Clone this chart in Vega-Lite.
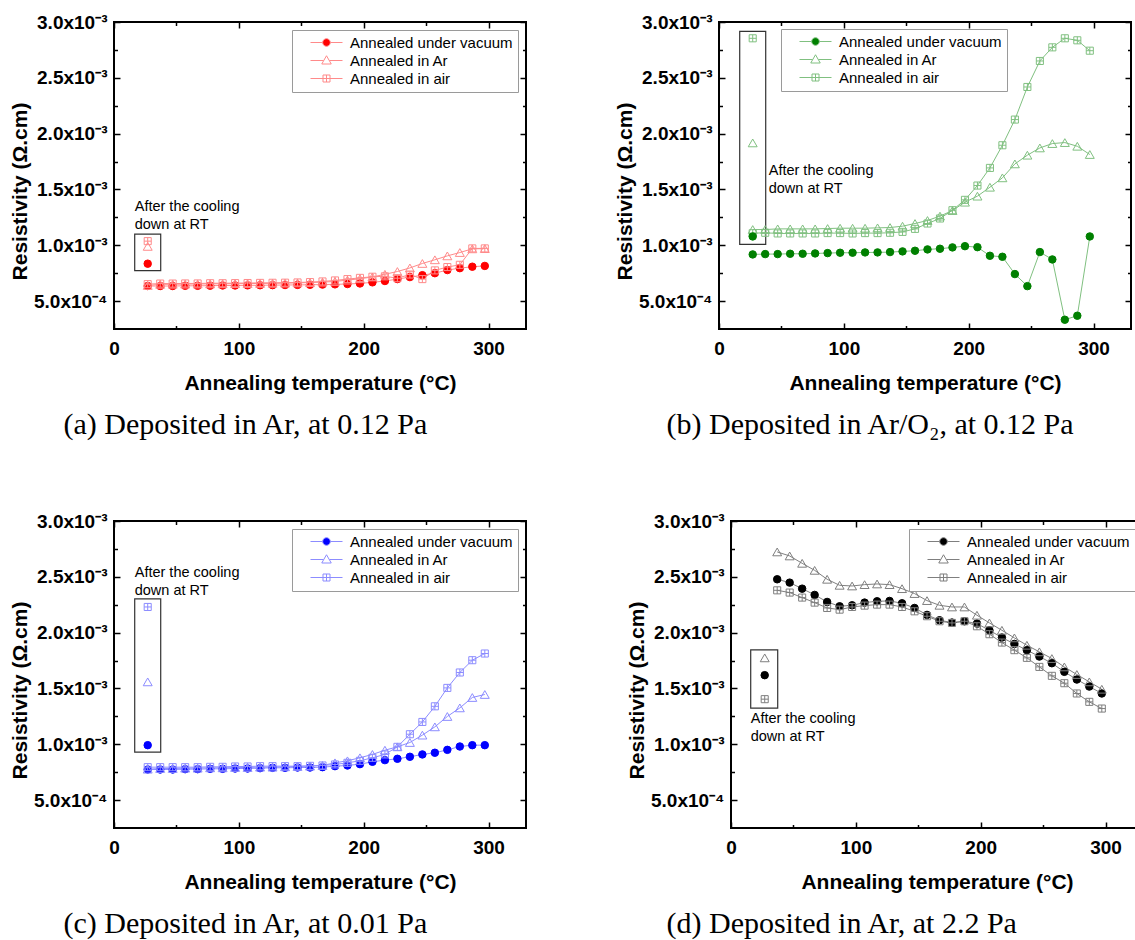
{
  "$schema": "https://vega.github.io/schema/vega-lite/v6.json",
  "background": "white",
  "padding": {"left": 8, "top": 12, "right": 0, "bottom": 0},
  "spacing": 70,
  "resolve": {"scale": {"shape": "independent"}, "legend": {"shape": "independent"}},
  "config": {
    "view": {"stroke": "black", "strokeWidth": 2},
    "axis": {"domain": false, "grid": false, "labelFont": "Liberation Sans", "labelFontWeight": "bold", "labelFontSize": 19, "labelColor": "black", "titleFont": "Liberation Sans", "titleFontWeight": "bold", "titleFontSize": 21, "titleColor": "black", "tickColor": "black", "tickWidth": 1.5, "labelFlush": false, "labelOverlap": false},
    "axisX": {"labelPadding": 16, "titlePadding": 12},
    "axisY": {"labelPadding": 13, "titlePadding": 3},
    "legend": {"labelFont": "Liberation Sans", "labelFontSize": 15, "labelColor": "black", "labelLimit": 400, "strokeColor": "#9a9a9a", "fillColor": "white", "padding": 5, "rowPadding": 2, "symbolSize": 100, "symbolOffset": 22, "labelOffset": 16, "cornerRadius": 0},
    "text": {"font": "Liberation Sans"},
    "title": {"orient": "bottom", "font": "Liberation Serif", "fontSize": 30, "fontWeight": "normal", "color": "black", "offset": 16, "anchor": "start", "frame": "bounds"}
  },
  "datasets": {
    "a": [
      {"T": 27, "Annealed under vacuum": 0.000635, "Annealed in Ar": 0.00064, "Annealed in air": 0.000652},
      {"T": 37, "Annealed under vacuum": 0.000635, "Annealed in Ar": 0.00065, "Annealed in air": 0.000657},
      {"T": 47, "Annealed under vacuum": 0.000635, "Annealed in Ar": 0.000651, "Annealed in air": 0.000657},
      {"T": 57, "Annealed under vacuum": 0.000637, "Annealed in Ar": 0.000652, "Annealed in air": 0.000658},
      {"T": 67, "Annealed under vacuum": 0.000637, "Annealed in Ar": 0.000653, "Annealed in air": 0.000658},
      {"T": 77, "Annealed under vacuum": 0.000638, "Annealed in Ar": 0.000654, "Annealed in air": 0.00066},
      {"T": 87, "Annealed under vacuum": 0.00064, "Annealed in Ar": 0.000655, "Annealed in air": 0.00066},
      {"T": 97, "Annealed under vacuum": 0.00064, "Annealed in Ar": 0.000656, "Annealed in air": 0.000661},
      {"T": 107, "Annealed under vacuum": 0.000641, "Annealed in Ar": 0.000657, "Annealed in air": 0.000662},
      {"T": 117, "Annealed under vacuum": 0.000642, "Annealed in Ar": 0.000658, "Annealed in air": 0.000663},
      {"T": 127, "Annealed under vacuum": 0.000643, "Annealed in Ar": 0.000659, "Annealed in air": 0.000664},
      {"T": 137, "Annealed under vacuum": 0.000644, "Annealed in Ar": 0.000661, "Annealed in air": 0.000665},
      {"T": 147, "Annealed under vacuum": 0.000645, "Annealed in Ar": 0.000663, "Annealed in air": 0.000667},
      {"T": 157, "Annealed under vacuum": 0.000646, "Annealed in Ar": 0.000666, "Annealed in air": 0.00067},
      {"T": 167, "Annealed under vacuum": 0.000648, "Annealed in Ar": 0.00067, "Annealed in air": 0.000676},
      {"T": 177, "Annealed under vacuum": 0.00065, "Annealed in Ar": 0.000676, "Annealed in air": 0.000685},
      {"T": 187, "Annealed under vacuum": 0.000653, "Annealed in Ar": 0.000688, "Annealed in air": 0.000697},
      {"T": 197, "Annealed under vacuum": 0.000658, "Annealed in Ar": 0.0007, "Annealed in air": 0.000708},
      {"T": 207, "Annealed under vacuum": 0.000668, "Annealed in Ar": 0.000716, "Annealed in air": 0.000718},
      {"T": 217, "Annealed under vacuum": 0.00068, "Annealed in Ar": 0.00074, "Annealed in air": 0.000722},
      {"T": 227, "Annealed under vacuum": 0.000697, "Annealed in Ar": 0.000765, "Annealed in air": 0.000705},
      {"T": 237, "Annealed under vacuum": 0.000715, "Annealed in Ar": 0.000797, "Annealed in air": 0.000738},
      {"T": 247, "Annealed under vacuum": 0.000732, "Annealed in Ar": 0.000837, "Annealed in air": 0.000697},
      {"T": 257, "Annealed under vacuum": 0.00075, "Annealed in Ar": 0.00087, "Annealed in air": 0.000775},
      {"T": 267, "Annealed under vacuum": 0.000778, "Annealed in Ar": 0.000905, "Annealed in air": 0.000805},
      {"T": 277, "Annealed under vacuum": 0.000795, "Annealed in Ar": 0.000935, "Annealed in air": 0.000825},
      {"T": 287, "Annealed under vacuum": 0.000808, "Annealed in Ar": 0.000968, "Annealed in air": 0.000972},
      {"T": 297, "Annealed under vacuum": 0.000815, "Annealed in Ar": 0.00097, "Annealed in air": 0.000972}
    ],
    "a_rt": [
      {"series": "Annealed under vacuum", "T": 27, "rho": 0.000835},
      {"series": "Annealed in Ar", "T": 27, "rho": 0.00099},
      {"series": "Annealed in air", "T": 27, "rho": 0.001037}
    ],
    "b": [
      {"T": 27, "Annealed under vacuum": 0.000918, "Annealed in Ar": 0.001141, "Annealed in air": 0.001108},
      {"T": 37, "Annealed under vacuum": 0.000921, "Annealed in Ar": 0.001141, "Annealed in air": 0.001112},
      {"T": 47, "Annealed under vacuum": 0.000921, "Annealed in Ar": 0.001147, "Annealed in air": 0.001106},
      {"T": 57, "Annealed under vacuum": 0.000924, "Annealed in Ar": 0.001147, "Annealed in air": 0.001106},
      {"T": 67, "Annealed under vacuum": 0.000924, "Annealed in Ar": 0.001147, "Annealed in air": 0.001106},
      {"T": 77, "Annealed under vacuum": 0.000927, "Annealed in Ar": 0.001147, "Annealed in air": 0.001106},
      {"T": 87, "Annealed under vacuum": 0.00093, "Annealed in Ar": 0.00115, "Annealed in air": 0.001109},
      {"T": 97, "Annealed under vacuum": 0.000933, "Annealed in Ar": 0.001153, "Annealed in air": 0.001109},
      {"T": 107, "Annealed under vacuum": 0.000933, "Annealed in Ar": 0.001153, "Annealed in air": 0.001106},
      {"T": 117, "Annealed under vacuum": 0.000936, "Annealed in Ar": 0.001153, "Annealed in air": 0.001109},
      {"T": 127, "Annealed under vacuum": 0.000936, "Annealed in Ar": 0.001156, "Annealed in air": 0.001109},
      {"T": 137, "Annealed under vacuum": 0.000939, "Annealed in Ar": 0.001159, "Annealed in air": 0.001112},
      {"T": 147, "Annealed under vacuum": 0.000945, "Annealed in Ar": 0.001171, "Annealed in air": 0.00112},
      {"T": 157, "Annealed under vacuum": 0.000951, "Annealed in Ar": 0.001195, "Annealed in air": 0.001147},
      {"T": 167, "Annealed under vacuum": 0.000963, "Annealed in Ar": 0.001222, "Annealed in air": 0.001195},
      {"T": 177, "Annealed under vacuum": 0.000969, "Annealed in Ar": 0.001261, "Annealed in air": 0.00124},
      {"T": 187, "Annealed under vacuum": 0.000981, "Annealed in Ar": 0.001311, "Annealed in air": 0.001314},
      {"T": 197, "Annealed under vacuum": 0.000992, "Annealed in Ar": 0.001386, "Annealed in air": 0.001407},
      {"T": 207, "Annealed under vacuum": 0.000983, "Annealed in Ar": 0.00144, "Annealed in air": 0.001535},
      {"T": 217, "Annealed under vacuum": 0.000906, "Annealed in Ar": 0.00152, "Annealed in air": 0.001693},
      {"T": 227, "Annealed under vacuum": 0.000897, "Annealed in Ar": 0.001604, "Annealed in air": 0.001896},
      {"T": 237, "Annealed under vacuum": 0.000742, "Annealed in Ar": 0.001729, "Annealed in air": 0.002126},
      {"T": 247, "Annealed under vacuum": 0.000634, "Annealed in Ar": 0.001807, "Annealed in air": 0.002418},
      {"T": 257, "Annealed under vacuum": 0.000939, "Annealed in Ar": 0.001872, "Annealed in air": 0.002651},
      {"T": 267, "Annealed under vacuum": 0.000873, "Annealed in Ar": 0.001911, "Annealed in air": 0.002773},
      {"T": 277, "Annealed under vacuum": 0.000333, "Annealed in Ar": 0.00192, "Annealed in air": 0.002854},
      {"T": 287, "Annealed under vacuum": 0.000369, "Annealed in Ar": 0.001887, "Annealed in air": 0.002836},
      {"T": 297, "Annealed under vacuum": 0.001079, "Annealed in Ar": 0.001813, "Annealed in air": 0.002743}
    ],
    "b_rt": [
      {"series": "Annealed under vacuum", "T": 27, "rho": 0.001079},
      {"series": "Annealed in Ar", "T": 27, "rho": 0.001917},
      {"series": "Annealed in air", "T": 27, "rho": 0.002854}
    ],
    "c": [
      {"T": 27, "Annealed under vacuum": 0.000774, "Annealed in Ar": 0.000777, "Annealed in air": 0.000795},
      {"T": 37, "Annealed under vacuum": 0.000774, "Annealed in Ar": 0.000783, "Annealed in air": 0.000795},
      {"T": 47, "Annealed under vacuum": 0.000774, "Annealed in Ar": 0.000783, "Annealed in air": 0.000795},
      {"T": 57, "Annealed under vacuum": 0.000777, "Annealed in Ar": 0.000786, "Annealed in air": 0.000795},
      {"T": 67, "Annealed under vacuum": 0.000777, "Annealed in Ar": 0.000786, "Annealed in air": 0.000795},
      {"T": 77, "Annealed under vacuum": 0.00078, "Annealed in Ar": 0.000789, "Annealed in air": 0.000798},
      {"T": 87, "Annealed under vacuum": 0.00078, "Annealed in Ar": 0.000789, "Annealed in air": 0.000798},
      {"T": 97, "Annealed under vacuum": 0.000783, "Annealed in Ar": 0.000792, "Annealed in air": 0.000801},
      {"T": 107, "Annealed under vacuum": 0.000783, "Annealed in Ar": 0.000792, "Annealed in air": 0.000801},
      {"T": 117, "Annealed under vacuum": 0.000786, "Annealed in Ar": 0.000795, "Annealed in air": 0.000804},
      {"T": 127, "Annealed under vacuum": 0.000789, "Annealed in Ar": 0.000795, "Annealed in air": 0.000804},
      {"T": 137, "Annealed under vacuum": 0.000789, "Annealed in Ar": 0.000798, "Annealed in air": 0.000804},
      {"T": 147, "Annealed under vacuum": 0.000792, "Annealed in Ar": 0.000801, "Annealed in air": 0.000804},
      {"T": 157, "Annealed under vacuum": 0.000792, "Annealed in Ar": 0.000804, "Annealed in air": 0.000807},
      {"T": 167, "Annealed under vacuum": 0.000795, "Annealed in Ar": 0.00081, "Annealed in air": 0.00081},
      {"T": 177, "Annealed under vacuum": 0.000804, "Annealed in Ar": 0.000834, "Annealed in air": 0.000819},
      {"T": 187, "Annealed under vacuum": 0.00081, "Annealed in Ar": 0.000852, "Annealed in air": 0.000834},
      {"T": 197, "Annealed under vacuum": 0.000822, "Annealed in Ar": 0.000879, "Annealed in air": 0.000852},
      {"T": 207, "Annealed under vacuum": 0.000843, "Annealed in Ar": 0.000909, "Annealed in air": 0.000879},
      {"T": 217, "Annealed under vacuum": 0.000858, "Annealed in Ar": 0.000947, "Annealed in air": 0.000909},
      {"T": 227, "Annealed under vacuum": 0.00087, "Annealed in Ar": 0.000977, "Annealed in air": 0.000977},
      {"T": 237, "Annealed under vacuum": 0.000888, "Annealed in Ar": 0.001016, "Annealed in air": 0.00109},
      {"T": 247, "Annealed under vacuum": 0.000909, "Annealed in Ar": 0.001082, "Annealed in air": 0.0012},
      {"T": 257, "Annealed under vacuum": 0.000924, "Annealed in Ar": 0.001156, "Annealed in air": 0.00134},
      {"T": 267, "Annealed under vacuum": 0.00095, "Annealed in Ar": 0.001249, "Annealed in air": 0.001505},
      {"T": 277, "Annealed under vacuum": 0.00098, "Annealed in Ar": 0.001326, "Annealed in air": 0.001643},
      {"T": 287, "Annealed under vacuum": 0.000992, "Annealed in Ar": 0.001419, "Annealed in air": 0.001753},
      {"T": 297, "Annealed under vacuum": 0.000992, "Annealed in Ar": 0.001446, "Annealed in air": 0.001813}
    ],
    "c_rt": [
      {"series": "Annealed under vacuum", "T": 27, "rho": 0.000992},
      {"series": "Annealed in Ar", "T": 27, "rho": 0.001559},
      {"series": "Annealed in air", "T": 27, "rho": 0.00223}
    ],
    "d": [
      {"T": 37, "Annealed under vacuum": 0.002478, "Annealed in Ar": 0.002723, "Annealed in air": 0.002379},
      {"T": 47, "Annealed under vacuum": 0.002448, "Annealed in Ar": 0.002687, "Annealed in air": 0.002359},
      {"T": 57, "Annealed under vacuum": 0.002394, "Annealed in Ar": 0.002621, "Annealed in air": 0.002314},
      {"T": 67, "Annealed under vacuum": 0.002338, "Annealed in Ar": 0.002558, "Annealed in air": 0.002269},
      {"T": 77, "Annealed under vacuum": 0.002275, "Annealed in Ar": 0.002478, "Annealed in air": 0.002221},
      {"T": 87, "Annealed under vacuum": 0.002236, "Annealed in Ar": 0.002424, "Annealed in air": 0.002206},
      {"T": 97, "Annealed under vacuum": 0.002245, "Annealed in Ar": 0.002418, "Annealed in air": 0.00223},
      {"T": 107, "Annealed under vacuum": 0.002269, "Annealed in Ar": 0.00243, "Annealed in air": 0.002242},
      {"T": 117, "Annealed under vacuum": 0.002281, "Annealed in Ar": 0.002436, "Annealed in air": 0.002251},
      {"T": 127, "Annealed under vacuum": 0.002284, "Annealed in Ar": 0.00243, "Annealed in air": 0.002251},
      {"T": 137, "Annealed under vacuum": 0.002263, "Annealed in Ar": 0.002394, "Annealed in air": 0.00223},
      {"T": 147, "Annealed under vacuum": 0.002221, "Annealed in Ar": 0.00235, "Annealed in air": 0.002191},
      {"T": 157, "Annealed under vacuum": 0.002159, "Annealed in Ar": 0.002287, "Annealed in air": 0.002147},
      {"T": 167, "Annealed under vacuum": 0.002111, "Annealed in Ar": 0.002245, "Annealed in air": 0.002102},
      {"T": 177, "Annealed under vacuum": 0.00209, "Annealed in Ar": 0.00223, "Annealed in air": 0.002087},
      {"T": 187, "Annealed under vacuum": 0.002102, "Annealed in Ar": 0.00223, "Annealed in air": 0.002102},
      {"T": 197, "Annealed under vacuum": 0.002081, "Annealed in Ar": 0.002156, "Annealed in air": 0.002057},
      {"T": 207, "Annealed under vacuum": 0.002021, "Annealed in Ar": 0.002087, "Annealed in air": 0.001986},
      {"T": 217, "Annealed under vacuum": 0.001956, "Annealed in Ar": 0.002021, "Annealed in air": 0.001911},
      {"T": 227, "Annealed under vacuum": 0.001899, "Annealed in Ar": 0.001953, "Annealed in air": 0.001843},
      {"T": 237, "Annealed under vacuum": 0.001843, "Annealed in Ar": 0.001887, "Annealed in air": 0.001774},
      {"T": 247, "Annealed under vacuum": 0.001786, "Annealed in Ar": 0.001828, "Annealed in air": 0.001693},
      {"T": 257, "Annealed under vacuum": 0.001726, "Annealed in Ar": 0.001768, "Annealed in air": 0.001613},
      {"T": 267, "Annealed under vacuum": 0.001649, "Annealed in Ar": 0.001693, "Annealed in air": 0.001547},
      {"T": 277, "Annealed under vacuum": 0.00158, "Annealed in Ar": 0.001625, "Annealed in air": 0.001455},
      {"T": 287, "Annealed under vacuum": 0.001517, "Annealed in Ar": 0.001559, "Annealed in air": 0.00138},
      {"T": 297, "Annealed under vacuum": 0.001455, "Annealed in Ar": 0.001493, "Annealed in air": 0.00132}
    ],
    "d_rt": [
      {"series": "Annealed under vacuum", "T": 27, "rho": 0.001619},
      {"series": "Annealed in Ar", "T": 27, "rho": 0.001774},
      {"series": "Annealed in air", "T": 27, "rho": 0.001404}
    ]
  },
  "vconcat": [
    {
      "spacing": 85,
      "resolve": {"scale": {"shape": "independent"}, "legend": {"shape": "independent"}},
      "hconcat": [
        {
          "width": 412, "height": 307,
          "title": {"text": "(a) Deposited in Ar, at 0.12 Pa", "dx": 54},
          "resolve": {"axis": {"x": "independent", "y": "independent"}, "scale": {"shape": "independent"}, "legend": {"shape": "independent"}},
          "layer": [
            {"data": {"name": "a_rt"},
             "mark": {"type": "rect", "filled": false, "stroke": "#333333", "strokeWidth": 1.2, "xOffset": -13, "x2Offset": 13, "yOffset": -7, "y2Offset": 7},
             "encoding": {
               "x": {"aggregate": "min", "field": "T", "type": "quantitative", "scale": {"domain": [0, 330], "nice": false, "zero": false}, "axis": null},
               "x2": {"aggregate": "max", "field": "T"},
               "y": {"aggregate": "max", "field": "rho", "type": "quantitative", "scale": {"domain": [0.00025, 0.003], "nice": false, "zero": false}, "axis": null},
               "y2": {"aggregate": "min", "field": "rho"}}},
            {"data": {"name": "a_rt"},
             "mark": {"type": "text", "text": ["After the cooling", "down at RT"], "align": "left", "baseline": "middle", "dx": -13, "dy": -34, "fontSize": 14.5, "lineHeight": 18, "color": "black"},
             "encoding": {
               "x": {"aggregate": "min", "field": "T", "type": "quantitative", "axis": null},
               "y": {"aggregate": "max", "field": "rho", "type": "quantitative", "axis": null}}},
            {"data": {"name": "a"},
             "transform": [{"fold": ["Annealed under vacuum", "Annealed in Ar", "Annealed in air"], "as": ["series", "rho"]}],
             "mark": {"type": "line", "color": "#ff8a8a", "strokeWidth": 1},
             "encoding": {
               "x": {"field": "T", "type": "quantitative", "axis": {"title": "Annealing temperature (°C)", "values": [0, 50, 100, 150, 200, 250, 300], "labelExpr": "datum.value % 100 === 0 ? datum.label : ''", "tickSize": {"condition": {"test": "datum.value % 100 === 0", "value": -6}, "value": -3.5}}},
               "y": {"field": "rho", "type": "quantitative", "axis": {"title": "Resistivity (Ω.cm)", "titleY": 169, "values": [0.0005, 0.00075, 0.001, 0.00125, 0.0015, 0.00175, 0.002, 0.00225, 0.0025, 0.00275, 0.003], "labelExpr": "round(datum.value*1e5) % 50 !== 0 ? '' : (datum.value < 0.00099 ? format(datum.value*1e4, '.1f') + 'x10⁻⁴' : format(datum.value*1e3, '.1f') + 'x10⁻³')", "tickSize": {"condition": {"test": "round(datum.value*1e5) % 50 === 0", "value": -6}, "value": -3.5}}},
               "detail": {"field": "series"}}},
            {"data": {"name": "a"},
             "transform": [{"fold": ["Annealed under vacuum", "Annealed in Ar", "Annealed in air"], "as": ["series", "rho"]}],
             "mark": {"type": "point", "opacity": 1, "strokeWidth": 1},
             "encoding": {
               "x": {"field": "T", "type": "quantitative", "axis": null},
               "y": {"field": "rho", "type": "quantitative", "axis": null},
               "shape": {"field": "series", "type": "nominal", "scale": {"domain": ["Annealed under vacuum", "Annealed in Ar", "Annealed in air"], "range": ["circle", "triangle-up", "M-1,-1H1V1H-1ZM-1,0H1M0,-1V1"]}, "legend": null},
               "fill": {"condition": {"test": "datum.series === 'Annealed under vacuum'", "value": "#ff0000"}, "value": "transparent"},
               "stroke": {"condition": {"test": "datum.series === 'Annealed under vacuum'", "value": "#ff0000"}, "value": "#ff8a8a"},
               "size": {"condition": [{"test": "datum.series === 'Annealed in Ar'", "value": 80}, {"test": "datum.series === 'Annealed under vacuum'", "value": 56}], "value": 50}}},
            {"data": {"name": "a_rt"},
             "mark": {"type": "point", "opacity": 1, "strokeWidth": 1},
             "encoding": {
               "x": {"field": "T", "type": "quantitative", "axis": null},
               "y": {"field": "rho", "type": "quantitative", "axis": null},
               "shape": {"field": "series", "type": "nominal", "scale": {"domain": ["Annealed under vacuum", "Annealed in Ar", "Annealed in air"], "range": ["circle", "triangle-up", "M-1,-1H1V1H-1ZM-1,0H1M0,-1V1"]}, "legend": null},
               "fill": {"condition": {"test": "datum.series === 'Annealed under vacuum'", "value": "#ff0000"}, "value": "transparent"},
               "stroke": {"condition": {"test": "datum.series === 'Annealed under vacuum'", "value": "#ff0000"}, "value": "#ff8a8a"},
               "size": {"condition": [{"test": "datum.series === 'Annealed in Ar'", "value": 80}, {"test": "datum.series === 'Annealed under vacuum'", "value": 56}], "value": 50}}},
            {"data": {"name": "a_rt"},
             "transform": [{"filter": "false"}],
             "mark": {"type": "point", "opacity": 1, "strokeWidth": 1},
             "encoding": {
               "x": {"field": "T", "type": "quantitative", "axis": null},
               "y": {"field": "rho", "type": "quantitative", "axis": null},
               "shape": {"field": "series", "type": "nominal",
                 "scale": {"domain": ["Annealed under vacuum", "Annealed in Ar", "Annealed in air"], "range": ["M-3.2,0H-0.76M0.76,0H3.2M-0.76,0A0.76,0.76,0,1,1,0.76,0A0.76,0.76,0,1,1,-0.76,0Z", "M-3.2,0H-0.6M0.6,0H3.2M0,-0.95L0.95,0.7L-0.95,0.7Z", "M-3.2,0H-0.7M0.7,0H3.2M-0.7,-0.7H0.7V0.7H-0.7ZM-0.7,0H0.7M0,-0.7V0.7"]},
                 "legend": {"orient": "top-right", "offset": 8, "title": null,
                   "encoding": {"symbols": {
                     "fill": {"value": {"expr": "datum.value === 'Annealed under vacuum' ? '#ff0000' : 'transparent'"}},
                     "stroke": {"value": "#ff8a8a"}, "size": {"value": 100}, "strokeWidth": {"value": 1}, "opacity": {"value": 1}}}}}}},
            {"data": {"name": "a_rt"},
             "mark": {"type": "point", "opacity": 0},
             "encoding": {
               "x": {"field": "T", "type": "quantitative", "axis": {"orient": "top", "labels": false, "title": null, "values": [0, 50, 100, 150, 200, 250, 300], "tickSize": {"condition": {"test": "datum.value % 100 === 0", "value": -6}, "value": -3.5}}},
               "y": {"field": "rho", "type": "quantitative", "axis": {"orient": "right", "labels": false, "title": null, "values": [0.0005, 0.00075, 0.001, 0.00125, 0.0015, 0.00175, 0.002, 0.00225, 0.0025, 0.00275, 0.003], "tickSize": {"condition": {"test": "round(datum.value*1e5) % 50 === 0", "value": -6}, "value": -3.5}}}}}
          ]
        },
        {
          "width": 412, "height": 307,
          "title": {"text": "(b) Deposited in Ar/O₂, at 0.12 Pa", "dx": 52},
          "resolve": {"axis": {"x": "independent", "y": "independent"}, "scale": {"shape": "independent"}, "legend": {"shape": "independent"}},
          "layer": [
            {"data": {"name": "b_rt"},
             "mark": {"type": "rect", "filled": false, "stroke": "#333333", "strokeWidth": 1.2, "xOffset": -13, "x2Offset": 13, "yOffset": -7, "y2Offset": 8},
             "encoding": {
               "x": {"aggregate": "min", "field": "T", "type": "quantitative", "scale": {"domain": [0, 330], "nice": false, "zero": false}, "axis": null},
               "x2": {"aggregate": "max", "field": "T"},
               "y": {"aggregate": "max", "field": "rho", "type": "quantitative", "scale": {"domain": [0.00025, 0.003], "nice": false, "zero": false}, "axis": null},
               "y2": {"aggregate": "min", "field": "rho"}}},
            {"data": {"name": "b_rt"},
             "mark": {"type": "text", "text": ["After the cooling", "down at RT"], "align": "left", "baseline": "middle", "dx": 16, "dy": -65, "fontSize": 14.5, "lineHeight": 18, "color": "black"},
             "encoding": {
               "x": {"aggregate": "min", "field": "T", "type": "quantitative", "axis": null},
               "y": {"aggregate": "min", "field": "rho", "type": "quantitative", "axis": null}}},
            {"data": {"name": "b"},
             "transform": [{"fold": ["Annealed under vacuum", "Annealed in Ar", "Annealed in air"], "as": ["series", "rho"]}],
             "mark": {"type": "line", "color": "#80c080", "strokeWidth": 1},
             "encoding": {
               "x": {"field": "T", "type": "quantitative", "axis": {"title": "Annealing temperature (°C)", "values": [0, 50, 100, 150, 200, 250, 300], "labelExpr": "datum.value % 100 === 0 ? datum.label : ''", "tickSize": {"condition": {"test": "datum.value % 100 === 0", "value": -6}, "value": -3.5}}},
               "y": {"field": "rho", "type": "quantitative", "axis": {"title": "Resistivity (Ω.cm)", "titleY": 169, "values": [0.0005, 0.00075, 0.001, 0.00125, 0.0015, 0.00175, 0.002, 0.00225, 0.0025, 0.00275, 0.003], "labelExpr": "round(datum.value*1e5) % 50 !== 0 ? '' : (datum.value < 0.00099 ? format(datum.value*1e4, '.1f') + 'x10⁻⁴' : format(datum.value*1e3, '.1f') + 'x10⁻³')", "tickSize": {"condition": {"test": "round(datum.value*1e5) % 50 === 0", "value": -6}, "value": -3.5}}},
               "detail": {"field": "series"}}},
            {"data": {"name": "b"},
             "transform": [{"fold": ["Annealed under vacuum", "Annealed in Ar", "Annealed in air"], "as": ["series", "rho"]}],
             "mark": {"type": "point", "opacity": 1, "strokeWidth": 1},
             "encoding": {
               "x": {"field": "T", "type": "quantitative", "axis": null},
               "y": {"field": "rho", "type": "quantitative", "axis": null},
               "shape": {"field": "series", "type": "nominal", "scale": {"domain": ["Annealed under vacuum", "Annealed in Ar", "Annealed in air"], "range": ["circle", "triangle-up", "M-1,-1H1V1H-1ZM-1,0H1M0,-1V1"]}, "legend": null},
               "fill": {"condition": {"test": "datum.series === 'Annealed under vacuum'", "value": "#008000"}, "value": "transparent"},
               "stroke": {"condition": {"test": "datum.series === 'Annealed under vacuum'", "value": "#008000"}, "value": "#80c080"},
               "size": {"condition": [{"test": "datum.series === 'Annealed in Ar'", "value": 80}, {"test": "datum.series === 'Annealed under vacuum'", "value": 56}], "value": 50}}},
            {"data": {"name": "b_rt"},
             "mark": {"type": "point", "opacity": 1, "strokeWidth": 1},
             "encoding": {
               "x": {"field": "T", "type": "quantitative", "axis": null},
               "y": {"field": "rho", "type": "quantitative", "axis": null},
               "shape": {"field": "series", "type": "nominal", "scale": {"domain": ["Annealed under vacuum", "Annealed in Ar", "Annealed in air"], "range": ["circle", "triangle-up", "M-1,-1H1V1H-1ZM-1,0H1M0,-1V1"]}, "legend": null},
               "fill": {"condition": {"test": "datum.series === 'Annealed under vacuum'", "value": "#008000"}, "value": "transparent"},
               "stroke": {"condition": {"test": "datum.series === 'Annealed under vacuum'", "value": "#008000"}, "value": "#80c080"},
               "size": {"condition": [{"test": "datum.series === 'Annealed in Ar'", "value": 80}, {"test": "datum.series === 'Annealed under vacuum'", "value": 56}], "value": 50}}},
            {"data": {"name": "b_rt"},
             "transform": [{"filter": "false"}],
             "mark": {"type": "point", "opacity": 1, "strokeWidth": 1},
             "encoding": {
               "x": {"field": "T", "type": "quantitative", "axis": null},
               "y": {"field": "rho", "type": "quantitative", "axis": null},
               "shape": {"field": "series", "type": "nominal",
                 "scale": {"domain": ["Annealed under vacuum", "Annealed in Ar", "Annealed in air"], "range": ["M-3.2,0H-0.76M0.76,0H3.2M-0.76,0A0.76,0.76,0,1,1,0.76,0A0.76,0.76,0,1,1,-0.76,0Z", "M-3.2,0H-0.6M0.6,0H3.2M0,-0.95L0.95,0.7L-0.95,0.7Z", "M-3.2,0H-0.7M0.7,0H3.2M-0.7,-0.7H0.7V0.7H-0.7ZM-0.7,0H0.7M0,-0.7V0.7"]},
                 "legend": {"orient": "none", "legendX": 62, "legendY": 7, "title": null,
                   "encoding": {"symbols": {
                     "fill": {"value": {"expr": "datum.value === 'Annealed under vacuum' ? '#008000' : 'transparent'"}},
                     "stroke": {"value": "#80c080"}, "size": {"value": 100}, "strokeWidth": {"value": 1}, "opacity": {"value": 1}}}}}}},
            {"data": {"name": "b_rt"},
             "mark": {"type": "point", "opacity": 0},
             "encoding": {
               "x": {"field": "T", "type": "quantitative", "axis": {"orient": "top", "labels": false, "title": null, "values": [0, 50, 100, 150, 200, 250, 300], "tickSize": {"condition": {"test": "datum.value % 100 === 0", "value": -6}, "value": -3.5}}},
               "y": {"field": "rho", "type": "quantitative", "axis": {"orient": "right", "labels": false, "title": null, "values": [0.0005, 0.00075, 0.001, 0.00125, 0.0015, 0.00175, 0.002, 0.00225, 0.0025, 0.00275, 0.003], "tickSize": {"condition": {"test": "round(datum.value*1e5) % 50 === 0", "value": -6}, "value": -3.5}}}}}
          ]
        }
      ]
    },
    {
      "spacing": 97,
      "resolve": {"scale": {"shape": "independent"}, "legend": {"shape": "independent"}},
      "hconcat": [
        {
          "width": 412, "height": 307,
          "title": {"text": "(c) Deposited in Ar, at 0.01 Pa", "dx": 54},
          "resolve": {"axis": {"x": "independent", "y": "independent"}, "scale": {"shape": "independent"}, "legend": {"shape": "independent"}},
          "layer": [
            {"data": {"name": "c_rt"},
             "mark": {"type": "rect", "filled": false, "stroke": "#333333", "strokeWidth": 1.2, "xOffset": -13, "x2Offset": 13, "yOffset": -8, "y2Offset": 7},
             "encoding": {
               "x": {"aggregate": "min", "field": "T", "type": "quantitative", "scale": {"domain": [0, 330], "nice": false, "zero": false}, "axis": null},
               "x2": {"aggregate": "max", "field": "T"},
               "y": {"aggregate": "max", "field": "rho", "type": "quantitative", "scale": {"domain": [0.00025, 0.003], "nice": false, "zero": false}, "axis": null},
               "y2": {"aggregate": "min", "field": "rho"}}},
            {"data": {"name": "c_rt"},
             "mark": {"type": "text", "text": ["After the cooling", "down at RT"], "align": "left", "baseline": "middle", "dx": -13, "dy": -34, "fontSize": 14.5, "lineHeight": 18, "color": "black"},
             "encoding": {
               "x": {"aggregate": "min", "field": "T", "type": "quantitative", "axis": null},
               "y": {"aggregate": "max", "field": "rho", "type": "quantitative", "axis": null}}},
            {"data": {"name": "c"},
             "transform": [{"fold": ["Annealed under vacuum", "Annealed in Ar", "Annealed in air"], "as": ["series", "rho"]}],
             "mark": {"type": "line", "color": "#8c8cff", "strokeWidth": 1},
             "encoding": {
               "x": {"field": "T", "type": "quantitative", "axis": {"title": "Annealing temperature (°C)", "values": [0, 50, 100, 150, 200, 250, 300], "labelExpr": "datum.value % 100 === 0 ? datum.label : ''", "tickSize": {"condition": {"test": "datum.value % 100 === 0", "value": -6}, "value": -3.5}}},
               "y": {"field": "rho", "type": "quantitative", "axis": {"title": "Resistivity (Ω.cm)", "titleY": 169, "values": [0.0005, 0.00075, 0.001, 0.00125, 0.0015, 0.00175, 0.002, 0.00225, 0.0025, 0.00275, 0.003], "labelExpr": "round(datum.value*1e5) % 50 !== 0 ? '' : (datum.value < 0.00099 ? format(datum.value*1e4, '.1f') + 'x10⁻⁴' : format(datum.value*1e3, '.1f') + 'x10⁻³')", "tickSize": {"condition": {"test": "round(datum.value*1e5) % 50 === 0", "value": -6}, "value": -3.5}}},
               "detail": {"field": "series"}}},
            {"data": {"name": "c"},
             "transform": [{"fold": ["Annealed under vacuum", "Annealed in Ar", "Annealed in air"], "as": ["series", "rho"]}],
             "mark": {"type": "point", "opacity": 1, "strokeWidth": 1},
             "encoding": {
               "x": {"field": "T", "type": "quantitative", "axis": null},
               "y": {"field": "rho", "type": "quantitative", "axis": null},
               "shape": {"field": "series", "type": "nominal", "scale": {"domain": ["Annealed under vacuum", "Annealed in Ar", "Annealed in air"], "range": ["circle", "triangle-up", "M-1,-1H1V1H-1ZM-1,0H1M0,-1V1"]}, "legend": null},
               "fill": {"condition": {"test": "datum.series === 'Annealed under vacuum'", "value": "#0000ff"}, "value": "transparent"},
               "stroke": {"condition": {"test": "datum.series === 'Annealed under vacuum'", "value": "#0000ff"}, "value": "#8c8cff"},
               "size": {"condition": [{"test": "datum.series === 'Annealed in Ar'", "value": 80}, {"test": "datum.series === 'Annealed under vacuum'", "value": 56}], "value": 50}}},
            {"data": {"name": "c_rt"},
             "mark": {"type": "point", "opacity": 1, "strokeWidth": 1},
             "encoding": {
               "x": {"field": "T", "type": "quantitative", "axis": null},
               "y": {"field": "rho", "type": "quantitative", "axis": null},
               "shape": {"field": "series", "type": "nominal", "scale": {"domain": ["Annealed under vacuum", "Annealed in Ar", "Annealed in air"], "range": ["circle", "triangle-up", "M-1,-1H1V1H-1ZM-1,0H1M0,-1V1"]}, "legend": null},
               "fill": {"condition": {"test": "datum.series === 'Annealed under vacuum'", "value": "#0000ff"}, "value": "transparent"},
               "stroke": {"condition": {"test": "datum.series === 'Annealed under vacuum'", "value": "#0000ff"}, "value": "#8c8cff"},
               "size": {"condition": [{"test": "datum.series === 'Annealed in Ar'", "value": 80}, {"test": "datum.series === 'Annealed under vacuum'", "value": 56}], "value": 50}}},
            {"data": {"name": "c_rt"},
             "transform": [{"filter": "false"}],
             "mark": {"type": "point", "opacity": 1, "strokeWidth": 1},
             "encoding": {
               "x": {"field": "T", "type": "quantitative", "axis": null},
               "y": {"field": "rho", "type": "quantitative", "axis": null},
               "shape": {"field": "series", "type": "nominal",
                 "scale": {"domain": ["Annealed under vacuum", "Annealed in Ar", "Annealed in air"], "range": ["M-3.2,0H-0.76M0.76,0H3.2M-0.76,0A0.76,0.76,0,1,1,0.76,0A0.76,0.76,0,1,1,-0.76,0Z", "M-3.2,0H-0.6M0.6,0H3.2M0,-0.95L0.95,0.7L-0.95,0.7Z", "M-3.2,0H-0.7M0.7,0H3.2M-0.7,-0.7H0.7V0.7H-0.7ZM-0.7,0H0.7M0,-0.7V0.7"]},
                 "legend": {"orient": "top-right", "offset": 8, "title": null,
                   "encoding": {"symbols": {
                     "fill": {"value": {"expr": "datum.value === 'Annealed under vacuum' ? '#0000ff' : 'transparent'"}},
                     "stroke": {"value": "#8c8cff"}, "size": {"value": 100}, "strokeWidth": {"value": 1}, "opacity": {"value": 1}}}}}}},
            {"data": {"name": "c_rt"},
             "mark": {"type": "point", "opacity": 0},
             "encoding": {
               "x": {"field": "T", "type": "quantitative", "axis": {"orient": "top", "labels": false, "title": null, "values": [0, 50, 100, 150, 200, 250, 300], "tickSize": {"condition": {"test": "datum.value % 100 === 0", "value": -6}, "value": -3.5}}},
               "y": {"field": "rho", "type": "quantitative", "axis": {"orient": "right", "labels": false, "title": null, "values": [0.0005, 0.00075, 0.001, 0.00125, 0.0015, 0.00175, 0.002, 0.00225, 0.0025, 0.00275, 0.003], "tickSize": {"condition": {"test": "round(datum.value*1e5) % 50 === 0", "value": -6}, "value": -3.5}}}}}
          ]
        },
        {
          "width": 412, "height": 307,
          "title": {"text": "(d) Deposited in Ar, at 2.2 Pa", "dx": 40},
          "resolve": {"axis": {"x": "independent", "y": "independent"}, "scale": {"shape": "independent"}, "legend": {"shape": "independent"}},
          "layer": [
            {"data": {"name": "d_rt"},
             "mark": {"type": "rect", "filled": false, "stroke": "#333333", "strokeWidth": 1.2, "xOffset": -14, "x2Offset": 13, "yOffset": -8, "y2Offset": 9},
             "encoding": {
               "x": {"aggregate": "min", "field": "T", "type": "quantitative", "scale": {"domain": [0, 330], "nice": false, "zero": false}, "axis": null},
               "x2": {"aggregate": "max", "field": "T"},
               "y": {"aggregate": "max", "field": "rho", "type": "quantitative", "scale": {"domain": [0.00025, 0.003], "nice": false, "zero": false}, "axis": null},
               "y2": {"aggregate": "min", "field": "rho"}}},
            {"data": {"name": "d_rt"},
             "mark": {"type": "text", "text": ["After the cooling", "down at RT"], "align": "left", "baseline": "middle", "dx": -14, "dy": 19.5, "fontSize": 14.5, "lineHeight": 18, "color": "black"},
             "encoding": {
               "x": {"aggregate": "min", "field": "T", "type": "quantitative", "axis": null},
               "y": {"aggregate": "min", "field": "rho", "type": "quantitative", "axis": null}}},
            {"data": {"name": "d"},
             "transform": [{"fold": ["Annealed under vacuum", "Annealed in Ar", "Annealed in air"], "as": ["series", "rho"]}],
             "mark": {"type": "line", "color": "#7f7f7f", "strokeWidth": 1},
             "encoding": {
               "x": {"field": "T", "type": "quantitative", "axis": {"title": "Annealing temperature (°C)", "values": [0, 50, 100, 150, 200, 250, 300], "labelExpr": "datum.value % 100 === 0 ? datum.label : ''", "tickSize": {"condition": {"test": "datum.value % 100 === 0", "value": -6}, "value": -3.5}}},
               "y": {"field": "rho", "type": "quantitative", "axis": {"title": "Resistivity (Ω.cm)", "titleY": 169, "values": [0.0005, 0.00075, 0.001, 0.00125, 0.0015, 0.00175, 0.002, 0.00225, 0.0025, 0.00275, 0.003], "labelExpr": "round(datum.value*1e5) % 50 !== 0 ? '' : (datum.value < 0.00099 ? format(datum.value*1e4, '.1f') + 'x10⁻⁴' : format(datum.value*1e3, '.1f') + 'x10⁻³')", "tickSize": {"condition": {"test": "round(datum.value*1e5) % 50 === 0", "value": -6}, "value": -3.5}}},
               "detail": {"field": "series"}}},
            {"data": {"name": "d"},
             "transform": [{"fold": ["Annealed under vacuum", "Annealed in Ar", "Annealed in air"], "as": ["series", "rho"]}],
             "mark": {"type": "point", "opacity": 1, "strokeWidth": 1},
             "encoding": {
               "x": {"field": "T", "type": "quantitative", "axis": null},
               "y": {"field": "rho", "type": "quantitative", "axis": null},
               "shape": {"field": "series", "type": "nominal", "scale": {"domain": ["Annealed under vacuum", "Annealed in Ar", "Annealed in air"], "range": ["circle", "triangle-up", "M-1,-1H1V1H-1ZM-1,0H1M0,-1V1"]}, "legend": null},
               "fill": {"condition": {"test": "datum.series === 'Annealed under vacuum'", "value": "#000000"}, "value": "transparent"},
               "stroke": {"condition": {"test": "datum.series === 'Annealed under vacuum'", "value": "#000000"}, "value": "#7f7f7f"},
               "size": {"condition": [{"test": "datum.series === 'Annealed in Ar'", "value": 80}, {"test": "datum.series === 'Annealed under vacuum'", "value": 56}], "value": 50}}},
            {"data": {"name": "d_rt"},
             "mark": {"type": "point", "opacity": 1, "strokeWidth": 1},
             "encoding": {
               "x": {"field": "T", "type": "quantitative", "axis": null},
               "y": {"field": "rho", "type": "quantitative", "axis": null},
               "shape": {"field": "series", "type": "nominal", "scale": {"domain": ["Annealed under vacuum", "Annealed in Ar", "Annealed in air"], "range": ["circle", "triangle-up", "M-1,-1H1V1H-1ZM-1,0H1M0,-1V1"]}, "legend": null},
               "fill": {"condition": {"test": "datum.series === 'Annealed under vacuum'", "value": "#000000"}, "value": "transparent"},
               "stroke": {"condition": {"test": "datum.series === 'Annealed under vacuum'", "value": "#000000"}, "value": "#7f7f7f"},
               "size": {"condition": [{"test": "datum.series === 'Annealed in Ar'", "value": 80}, {"test": "datum.series === 'Annealed under vacuum'", "value": 56}], "value": 50}}},
            {"data": {"name": "d_rt"},
             "transform": [{"filter": "false"}],
             "mark": {"type": "point", "opacity": 1, "strokeWidth": 1},
             "encoding": {
               "x": {"field": "T", "type": "quantitative", "axis": null},
               "y": {"field": "rho", "type": "quantitative", "axis": null},
               "shape": {"field": "series", "type": "nominal",
                 "scale": {"domain": ["Annealed under vacuum", "Annealed in Ar", "Annealed in air"], "range": ["M-3.2,0H-0.76M0.76,0H3.2M-0.76,0A0.76,0.76,0,1,1,0.76,0A0.76,0.76,0,1,1,-0.76,0Z", "M-3.2,0H-0.6M0.6,0H3.2M0,-0.95L0.95,0.7L-0.95,0.7Z", "M-3.2,0H-0.7M0.7,0H3.2M-0.7,-0.7H0.7V0.7H-0.7ZM-0.7,0H0.7M0,-0.7V0.7"]},
                 "legend": {"orient": "top-right", "offset": 8, "title": null,
                   "encoding": {"symbols": {
                     "fill": {"value": {"expr": "datum.value === 'Annealed under vacuum' ? '#000000' : 'transparent'"}},
                     "stroke": {"value": "#7f7f7f"}, "size": {"value": 100}, "strokeWidth": {"value": 1}, "opacity": {"value": 1}}}}}}},
            {"data": {"name": "d_rt"},
             "mark": {"type": "point", "opacity": 0},
             "encoding": {
               "x": {"field": "T", "type": "quantitative", "axis": {"orient": "top", "labels": false, "title": null, "values": [0, 50, 100, 150, 200, 250, 300], "tickSize": {"condition": {"test": "datum.value % 100 === 0", "value": -6}, "value": -3.5}}},
               "y": {"field": "rho", "type": "quantitative", "axis": {"orient": "right", "labels": false, "title": null, "values": [0.0005, 0.00075, 0.001, 0.00125, 0.0015, 0.00175, 0.002, 0.00225, 0.0025, 0.00275, 0.003], "tickSize": {"condition": {"test": "round(datum.value*1e5) % 50 === 0", "value": -6}, "value": -3.5}}}}}
          ]
        }
      ]
    }
  ]
}
